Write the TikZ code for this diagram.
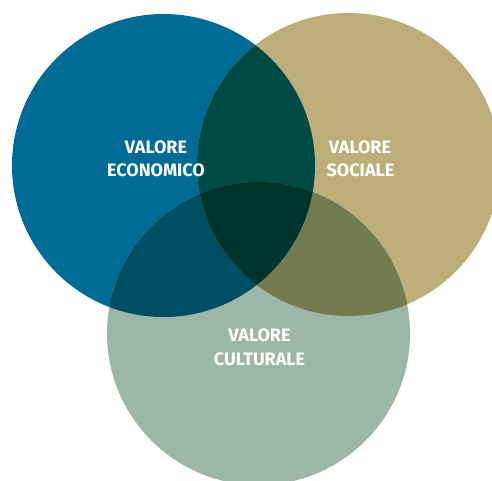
\documentclass[tikz,border=0pt]{standalone}
\usepackage{fontspec}
\setmainfont{Fira Sans}
\definecolor{cblue}{HTML}{006B94}
\definecolor{ctan}{HTML}{BCAD79}
\definecolor{cgreen}{HTML}{9CB7A7}
\definecolor{cbt}{HTML}{004A46}
\definecolor{cbg}{HTML}{004E62}
\definecolor{ctg}{HTML}{737C4F}
\definecolor{cbtg}{HTML}{00352E}
\tikzset{
  lbl/.style={anchor=base, inner sep=0pt, text=white, font=\bfseries\fontsize{18}{21}\selectfont}
}
\begin{document}
\begin{tikzpicture}[x=1pt,y=-1pt]
\useasboundingbox (0,0) rectangle (492,481);
\clip (0,0) rectangle (492,481);
\coordinate (B) at (163.5,165.5);
\coordinate (T) at (348.5,164.5);
\coordinate (G) at (258.5,333.5);
\def\rad{151.5pt}
\fill[cblue] (B) circle[radius=\rad];
\fill[ctan] (T) circle[radius=\rad];
\fill[cgreen] (G) circle[radius=\rad];
\begin{scope}
  \clip (B) circle[radius=\rad];
  \fill[cbt] (T) circle[radius=\rad];
  \fill[cbg] (G) circle[radius=\rad];
\end{scope}
\begin{scope}
  \clip (T) circle[radius=\rad];
  \fill[ctg] (G) circle[radius=\rad];
\end{scope}
\begin{scope}
  \clip (B) circle[radius=\rad];
  \clip (T) circle[radius=\rad];
  \fill[cbtg] (G) circle[radius=\rad];
\end{scope}
\node[lbl] (e1) at (156,154) {VALORE};
\node[lbl] (e2) at (156,177) {ECONOMICO};
\node[lbl] (s1) at (360,154) {VALORE};
\node[lbl] (s2) at (360.5,177) {SOCIALE};
\node[lbl] (c1) at (259.5,341.7) {VALORE};
\node[lbl] (c2) at (259.5,365) {CULTURALE};
\end{tikzpicture}
\end{document}
